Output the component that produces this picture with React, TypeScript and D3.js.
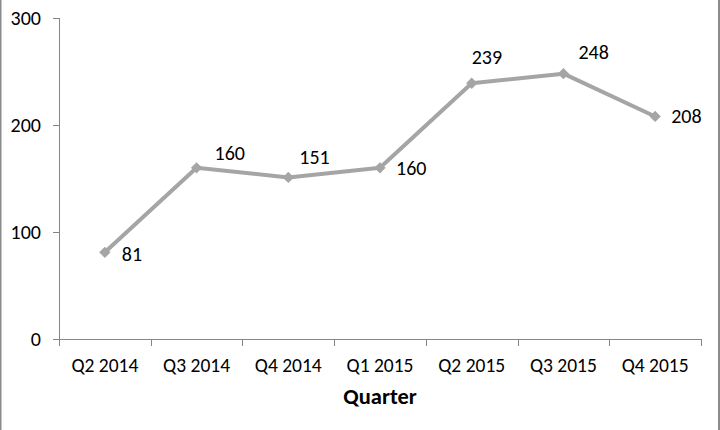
import React from "react";
import * as d3 from "d3";

const categories = ["Q2 2014", "Q3 2014", "Q4 2014", "Q1 2015", "Q2 2015", "Q3 2015", "Q4 2015"];
const values = [81, 160, 151, 160, 239, 248, 208];
const yTicks = [0, 100, 200, 300];
const xTitle = "Quarter";
// label placement relative to the point (style)
const labelOffsets: [number, number][] = [
  [17, 2], [18, -15], [11, -20], [16, 0], [0, -26], [15, -22], [16, 0],
];

const W = 720, H = 430;
const M = { left: 59, right: 701, top: 18, bottom: 339 };
const FONT = "Carlito, Calibri, Lato, sans-serif";

export default function App() {
  const x = d3.scaleBand<string>().domain(categories).range([M.left, M.right]);
  const y = d3.scaleLinear().domain([0, 300]).range([M.bottom, M.top]);
  const cx = (c: string) => (x(c) as number) + x.bandwidth() / 2;
  const line = d3.line<number>().x((_, i) => cx(categories[i])).y((d) => y(d));
  const diamond = d3.symbol().type(d3.symbolSquare).size(64)();
  const boundaries = categories.map((c) => x(c) as number).concat([M.right]);
  const axisColor = "#868686";

  return (
    <div style={{ position: "fixed", left: 0, top: 0, width: W, height: H, background: "#fff" }}>
      <svg width={W} height={H} style={{ display: "block" }} fontFamily={FONT}>
        <rect x={0} y={0} width={W} height={H} fill="#fff" />
        <line x1={0.5} x2={0.5} y1={0} y2={H} stroke="#8c8c8c" strokeWidth={2} />
        <line x1={719} x2={719} y1={0} y2={H} stroke="#8c8c8c" strokeWidth={2} />
        {/* y axis */}
        <line x1={M.left + 0.5} x2={M.left + 0.5} y1={y(300)} y2={y(0)} stroke={axisColor} />
        {yTicks.map((t) => (
          <g key={t}>
            <line x1={M.left - 6} x2={M.left} y1={Math.round(y(t)) + 0.5} y2={Math.round(y(t)) + 0.5} stroke={axisColor} />
            <text x={M.left - 18} y={y(t)} dy="0.35em" textAnchor="end" fontSize={20} fill="#000">{t}</text>
          </g>
        ))}
        {/* x axis */}
        <line x1={M.left} x2={M.right} y1={Math.round(y(0)) + 0.5} y2={Math.round(y(0)) + 0.5} stroke={axisColor} />
        {boundaries.map((b, i) => (
          <line key={i} x1={Math.round(b) + 0.5} x2={Math.round(b) + 0.5} y1={y(0)} y2={y(0) + 7} stroke={axisColor} />
        ))}
        {categories.map((c) => (
          <text key={c} x={cx(c)} y={365} dy="0.35em" textAnchor="middle" fontSize={19.5} fill="#000">{c}</text>
        ))}
        <text x={(M.left + M.right) / 2} y={396} dy="0.35em" textAnchor="middle" fontSize={22.5} fontWeight="bold" fill="#000">{xTitle}</text>
        {/* series */}
        <path d={line(values) || ""} fill="none" stroke="#A5A5A5" strokeWidth={4} strokeLinejoin="round" />
        {values.map((v, i) => (
          <path key={i} d={diamond || ""} transform={`translate(${cx(categories[i])},${y(v)}) rotate(45)`} fill="#A5A5A5" />
        ))}
        {values.map((v, i) => (
          <text key={"l" + i} x={cx(categories[i]) + labelOffsets[i][0]} y={y(v) + labelOffsets[i][1]} dy="0.35em" fontSize={20} fill="#000">{v}</text>
        ))}
      </svg>
    </div>
  );
}
